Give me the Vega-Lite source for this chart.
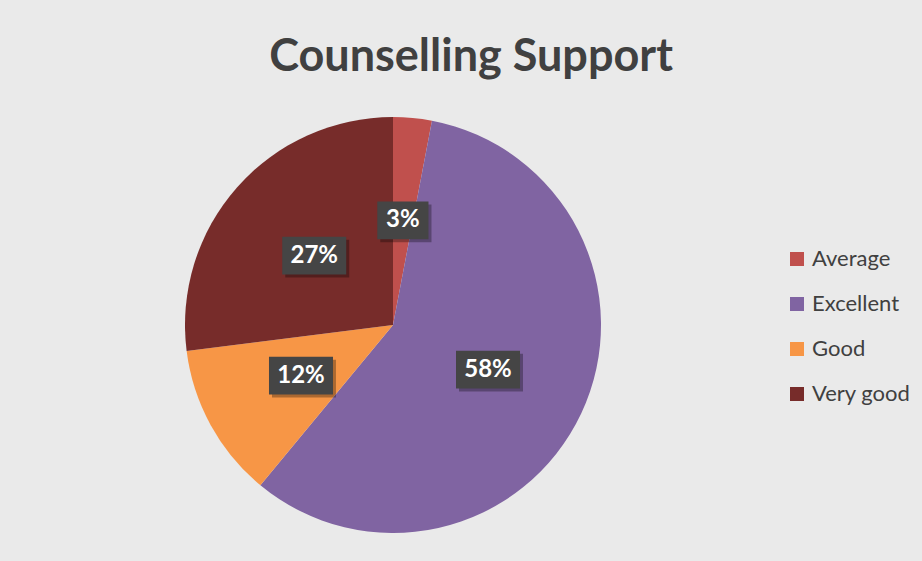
{
  "$schema": "https://vega.github.io/schema/vega-lite/v6.json",
  "width": 416,
  "height": 416,
  "autosize": {"type": "none"},
  "padding": {"left": 185, "top": 117, "right": 321, "bottom": 28},
  "background": "#eaeaea",
  "title": {
    "text": "Counselling Support",
    "font": "Lato",
    "fontSize": 45,
    "fontWeight": "bold",
    "color": "#404040",
    "anchor": "middle",
    "dx": 78,
    "offset": 1,
    "baseline": "alphabetic"
  },
  "data": {
    "values": [
      {"cat": "Average", "pct": 3},
      {"cat": "Excellent", "pct": 58},
      {"cat": "Good", "pct": 12},
      {"cat": "Very good", "pct": 27}
    ]
  },
  "transform": [
    {"calculate": "datum.pct + '%'", "as": "label"},
    {"joinaggregate": [{"op": "sum", "field": "pct", "as": "total"}]},
    {"stack": "pct", "groupby": [], "sort": [{"field": "cat", "order": "ascending"}], "as": ["s0", "s1"]},
    {"calculate": "PI * (datum.s0 + datum.s1) / datum.total", "as": "ang"},
    {"calculate": "sin(datum.ang) * 105 / 208", "as": "lx"},
    {"calculate": "cos(datum.ang) * 105 / 208", "as": "ly"}
  ],
  "layer": [
    {
      "mark": {"type": "arc", "outerRadius": 208},
      "encoding": {
        "theta": {"field": "pct", "type": "quantitative", "stack": true},
        "order": {"field": "cat", "sort": "ascending"},
        "color": {
          "field": "cat",
          "type": "nominal",
          "scale": {
            "domain": ["Average", "Excellent", "Good", "Very good"],
            "range": ["#C0504D", "#8064A2", "#F79646", "#772C2A"]
          },
          "legend": {
            "orient": "none",
            "legendX": 601,
            "legendY": 131,
            "title": null,
            "symbolType": "square",
            "symbolSize": 196,
            "symbolStrokeWidth": 0,
            "labelFont": "Lato",
            "labelFontSize": 22,
            "labelColor": "#404040",
            "rowPadding": 23,
            "labelOffset": 4,
            "padding": 0
          }
        }
      }
    },
    {
      "mark": {"type": "point", "filled": true, "color": "#000000", "opacity": 0.3, "size": 4096, "xOffset": 3, "yOffset": 3},
      "encoding": {
        "x": {"field": "lx", "type": "quantitative", "scale": {"domain": [-1, 1], "nice": false, "zero": false}, "axis": null},
        "y": {"field": "ly", "type": "quantitative", "scale": {"domain": [-1, 1], "nice": false, "zero": false}, "axis": null},
        "shape": {"condition": {"test": "datum.pct < 10", "value": "M-0.8,-0.59H0.8V0.59H-0.8Z"}, "value": "M-1,-0.59H1V0.59H-1Z"}
      }
    },
    {
      "mark": {"type": "point", "filled": true, "color": "#454545", "opacity": 1, "size": 4096},
      "encoding": {
        "x": {"field": "lx", "type": "quantitative", "scale": {"domain": [-1, 1], "nice": false, "zero": false}, "axis": null},
        "y": {"field": "ly", "type": "quantitative", "scale": {"domain": [-1, 1], "nice": false, "zero": false}, "axis": null},
        "shape": {"condition": {"test": "datum.pct < 10", "value": "M-0.8,-0.59H0.8V0.59H-0.8Z"}, "value": "M-1,-0.59H1V0.59H-1Z"}
      }
    },
    {
      "mark": {"type": "text", "font": "Lato", "fontWeight": "bold", "fontSize": 24, "color": "#ffffff"},
      "encoding": {
        "x": {"field": "lx", "type": "quantitative", "scale": {"domain": [-1, 1], "nice": false, "zero": false}, "axis": null},
        "y": {"field": "ly", "type": "quantitative", "scale": {"domain": [-1, 1], "nice": false, "zero": false}, "axis": null},
        "text": {"field": "label"}
      }
    }
  ],
  "config": {"view": {"stroke": null}}
}
